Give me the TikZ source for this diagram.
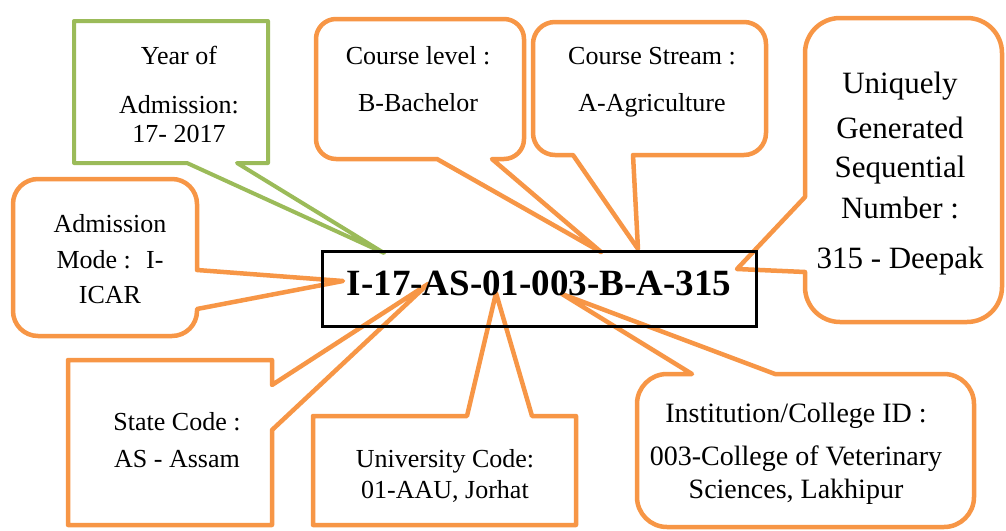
\documentclass[tikz,border=0pt]{standalone}
\usepackage{fontspec}
\setmainfont{Liberation Serif}

\definecolor{callorange}{HTML}{F79646}
\definecolor{callgreen}{HTML}{9BBB59}

\tikzset{
  bubble/.style={draw=callorange, line width=4.5pt, line join=round, fill=white},
  greenbubble/.style={draw=callgreen, line width=4pt, line join=round, fill=white},
  txt/.style={anchor=base, inner sep=0pt, font=\fontsize{26}{30}\selectfont},
  bigtxt/.style={txt, font=\fontsize{31}{36}\selectfont},
  midtxt/.style={txt, font=\fontsize{28}{32}\selectfont},
}

\begin{document}
\begin{tikzpicture}[x=1pt, y=-1pt]
  \useasboundingbox (0,0) rectangle (1006,530);

  % Pointer tips
  \coordinate (tipyear)   at (384,253);
  \coordinate (tiplevel)  at (601,252);
  \coordinate (tipstream) at (638,249);
  \coordinate (tipseq)    at (737,269);
  \coordinate (tipmode)   at (343,281);
  \coordinate (tipstate)  at (428,284);
  \coordinate (tipuniv)   at (496,293);
  \coordinate (tipinst)   at (562,294);

  % Callouts
  \draw[greenbubble] (tipyear) -- (237,163) -- (268,163) -- (268,21) -- (74,21) -- (74,163) -- (187,163) -- cycle;
  \draw[bubble] (tiplevel) -- (492,159) [rounded corners=20pt] -- (524,159) -- (524,19) -- (316,19) -- (316,159) [sharp corners] -- (437,159) -- cycle;
  \draw[bubble] (tipstream) -- (633,155) [rounded corners=22pt] -- (766,155) -- (766,22) -- (533,22) -- (533,155) [sharp corners] -- (573,155) -- cycle;
  \draw[bubble] (tipseq) -- (805,272) [rounded corners=35pt] -- (805,322) -- (1002,322) -- (1002,18) -- (805,18) [sharp corners] -- (805,197) -- cycle;
  \draw[bubble] (tipmode) -- (197,309) [rounded corners=25pt] -- (197,336) -- (13,336) -- (13,179) -- (197,179) [sharp corners] -- (197,270) -- cycle;
  \draw[bubble] (tipstate) -- (272,430) -- (272,525) -- (68,525) -- (68,360) -- (272,360) -- (272,385) -- cycle;
  \draw[bubble] (tipuniv) -- (532,416) -- (576,416) -- (576,525) -- (313,525) -- (313,416) -- (467,416) -- cycle;
  \draw[bubble] (tipinst) -- (775,374) [rounded corners=30pt] -- (974,374) -- (974,527) -- (637,527) -- (637,374) [sharp corners] -- (692,374) -- cycle;

  % Labels
  \draw (179,64)  node(yr1) [txt] {Year of};
  \draw (179,113) node(yr2) [txt] {Admission:};
  \draw (179,142) node(yr3) [txt] {17- 2017};

  \draw (418,64)  node(lvl1) [txt] {Course level :};
  \draw (418,111) node(lvl2) [txt] {B-Bachelor};

  \draw (652,64)  node(str1) [txt] {Course Stream :};
  \draw (652,111) node(str2) [txt] {A-Agriculture};

  \draw (900,93)  node(seq1) [bigtxt] {Uniquely};
  \draw (900,138) node(seq2) [bigtxt] {Generated};
  \draw (900,177) node(seq3) [bigtxt] {Sequential};
  \draw (900,218) node(seq4) [bigtxt] {Number :};
  \draw (900,268) node(seq5) [bigtxt] {315 - Deepak};

  \draw (110,232) node(mode1) [txt] {Admission};
  \draw (110,268) node(mode2) [txt] {Mode : \ I-};
  \draw (110,303) node(mode3) [txt] {ICAR};

  \draw (177,430) node(st1) [txt] {State Code :};
  \draw (177,467) node(st2) [txt] {AS - Assam};

  \draw (445,467) node(uni1) [txt] {University Code:};
  \draw (445,498) node(uni2) [txt] {01-AAU, Jorhat};

  \draw (796,422) node(ins1) [midtxt] {Institution/College ID :};
  \draw (796,465) node(ins2) [midtxt] {003-College of Veterinary};
  \draw (796,498) node(ins3) [midtxt] {Sciences, Lakhipur};

  % Code box
  \draw[line width=3pt] (322,251) rectangle (756,326);
  \draw (539,295) node(code) [anchor=base, inner sep=0pt, font=\fontsize{37}{40}\selectfont\bfseries] {I-17-AS-01-003-B-A-315};

\end{tikzpicture}
\end{document}
